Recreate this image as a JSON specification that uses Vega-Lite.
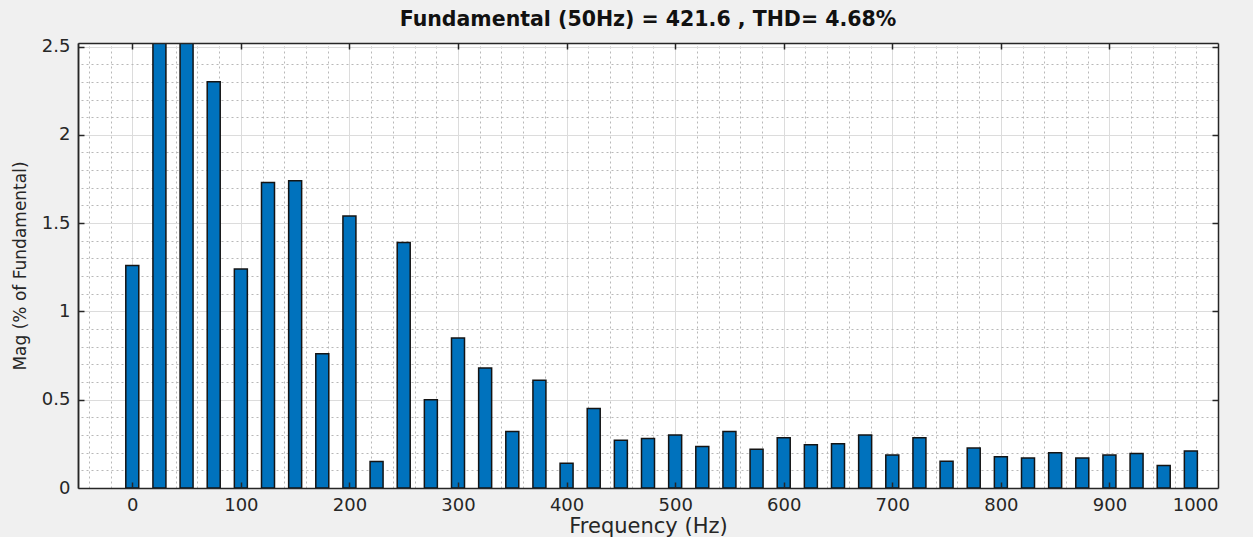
{
  "$schema": "https://vega.github.io/schema/vega-lite/v6.json",
  "width": 1140,
  "height": 445,
  "autosize": "none",
  "padding": {"left": 78, "top": 43, "right": 35, "bottom": 49},
  "background": "#F0F0F0",
  "title": {
    "text": "Fundamental (50Hz) = 421.6 , THD= 4.68%",
    "font": "DejaVu Sans",
    "fontSize": 20.5,
    "fontWeight": "bold",
    "color": "#111111",
    "anchor": "middle",
    "offset": 7
  },
  "config": {
    "view": {"fill": "white", "stroke": null},
    "axis": {
      "labelFont": "DejaVu Sans",
      "labelFontSize": 18,
      "labelColor": "#262626",
      "titleFont": "DejaVu Sans",
      "titleFontWeight": "normal",
      "titleColor": "#262626",
      "domainColor": "#262626",
      "tickColor": "#262626"
    }
  },
  "data": {
    "values": [
      {"freq": 0, "mag": 1.26},
      {"freq": 25, "mag": 3.0},
      {"freq": 50, "mag": 100},
      {"freq": 75, "mag": 2.3},
      {"freq": 100, "mag": 1.24},
      {"freq": 125, "mag": 1.73},
      {"freq": 150, "mag": 1.74},
      {"freq": 175, "mag": 0.76},
      {"freq": 200, "mag": 1.54},
      {"freq": 225, "mag": 0.15},
      {"freq": 250, "mag": 1.39},
      {"freq": 275, "mag": 0.5},
      {"freq": 300, "mag": 0.85},
      {"freq": 325, "mag": 0.68},
      {"freq": 350, "mag": 0.32},
      {"freq": 375, "mag": 0.61},
      {"freq": 400, "mag": 0.14},
      {"freq": 425, "mag": 0.45},
      {"freq": 450, "mag": 0.27},
      {"freq": 475, "mag": 0.28},
      {"freq": 500, "mag": 0.3},
      {"freq": 525, "mag": 0.235},
      {"freq": 550, "mag": 0.32},
      {"freq": 575, "mag": 0.22},
      {"freq": 600, "mag": 0.285},
      {"freq": 625, "mag": 0.245},
      {"freq": 650, "mag": 0.25},
      {"freq": 675, "mag": 0.3},
      {"freq": 700, "mag": 0.187},
      {"freq": 725, "mag": 0.285},
      {"freq": 750, "mag": 0.152},
      {"freq": 775, "mag": 0.226},
      {"freq": 800, "mag": 0.177},
      {"freq": 825, "mag": 0.17},
      {"freq": 850, "mag": 0.2},
      {"freq": 875, "mag": 0.17},
      {"freq": 900, "mag": 0.187},
      {"freq": 925, "mag": 0.195},
      {"freq": 950, "mag": 0.127},
      {"freq": 975, "mag": 0.21}
    ]
  },
  "layer": [
    {
      "mark": {"type": "point", "opacity": 0, "clip": true},
      "encoding": {
        "x": {
          "field": "freq", "type": "quantitative",
          "scale": {"domain": [-50, 1000], "nice": false, "zero": false, "padding": 0},
          "axis": {
            "orient": "top", "title": null, "labels": false, "ticks": false, "domain": false,
            "grid": true, "gridColor": "#b8b8b8", "gridDash": [2, 3], "gridWidth": 1,
            "values": [-40, -20, 0, 20, 40, 60, 80, 120, 140, 160, 180, 220, 240, 260, 280, 320, 340, 360, 380, 420, 440, 460, 480, 520, 540, 560, 580, 620, 640, 660, 680, 720, 740, 760, 780, 820, 840, 860, 880, 920, 940, 960, 980]
          }
        },
        "y": {
          "field": "mag", "type": "quantitative",
          "scale": {"domain": [0, 2.52], "nice": false, "padding": 0},
          "axis": {
            "orient": "right", "title": null, "labels": false, "ticks": false, "domain": false,
            "grid": true, "gridColor": "#b8b8b8", "gridDash": [2, 3], "gridWidth": 1,
            "values": [0.1, 0.2, 0.3, 0.4, 0.6, 0.7, 0.8, 0.9, 1.1, 1.2, 1.3, 1.4, 1.6, 1.7, 1.8, 1.9, 2.1, 2.2, 2.3, 2.4]
          }
        }
      }
    },
    {
      "mark": {"type": "bar", "fill": "#0072BD", "stroke": "#141414", "strokeWidth": 1.5, "width": 13, "clip": true},
      "encoding": {
        "x": {
          "field": "freq", "type": "quantitative",
          "scale": {"domain": [-50, 1000], "nice": false, "zero": false, "padding": 0},
          "axis": {
            "orient": "bottom", "title": "Frequency (Hz)", "titleFontSize": 21, "titlePadding": 1,
            "labelPadding": 8, "ticks": false, "domain": true, "domainWidth": 1.5,
            "grid": true, "gridColor": "#dcdcdc", "gridWidth": 1,
            "labelExpr": "'' + datum.value",
            "values": [0, 100, 200, 300, 400, 500, 600, 700, 800, 900, 1000]
          }
        },
        "y": {
          "field": "mag", "type": "quantitative",
          "scale": {"domain": [0, 2.52], "nice": false, "padding": 0},
          "axis": {
            "orient": "left", "title": "Mag (% of Fundamental)", "titleFontSize": 17, "titlePadding": 12,
            "labelPadding": 8, "ticks": false, "domain": true, "domainWidth": 1.5,
            "grid": true, "gridColor": "#dcdcdc", "gridWidth": 1,
            "labelExpr": "'' + datum.value",
            "values": [0, 0.5, 1, 1.5, 2, 2.5]
          }
        }
      }
    },
    {
      "mark": {"type": "point", "opacity": 0, "clip": true},
      "encoding": {
        "x": {
          "field": "freq", "type": "quantitative",
          "scale": {"domain": [-50, 1000], "nice": false, "zero": false, "padding": 0},
          "axis": {
            "orient": "bottom", "title": null, "labels": false, "ticks": true, "tickSize": -6, "tickWidth": 1.5,
            "domain": false, "grid": false, "zindex": 1,
            "values": [0, 100, 200, 300, 400, 500, 600, 700, 800, 900]
          }
        },
        "y": {
          "field": "mag", "type": "quantitative",
          "scale": {"domain": [0, 2.52], "nice": false, "padding": 0},
          "axis": {
            "orient": "left", "title": null, "labels": false, "ticks": true, "tickSize": -6, "tickWidth": 1.5,
            "domain": true, "domainWidth": 1.5, "grid": false, "zindex": 1,
            "values": [0.5, 1, 1.5, 2, 2.5]
          }
        }
      }
    },
    {
      "mark": {"type": "point", "opacity": 0, "clip": true},
      "encoding": {
        "x": {
          "field": "freq", "type": "quantitative",
          "scale": {"domain": [-50, 1000], "nice": false, "zero": false, "padding": 0},
          "axis": {
            "orient": "top", "title": null, "labels": false, "ticks": true, "tickSize": -6, "tickWidth": 1.5,
            "domain": true, "domainWidth": 1.5, "grid": false, "zindex": 1,
            "values": [0, 100, 200, 300, 400, 500, 600, 700, 800, 900]
          }
        },
        "y": {
          "field": "mag", "type": "quantitative",
          "scale": {"domain": [0, 2.52], "nice": false, "padding": 0},
          "axis": {
            "orient": "right", "title": null, "labels": false, "ticks": true, "tickSize": -6, "tickWidth": 1.5,
            "domain": true, "domainWidth": 1.5, "grid": false, "zindex": 1,
            "values": [0.5, 1, 1.5, 2, 2.5]
          }
        }
      }
    }
  ],
  "resolve": {"axis": {"x": "independent", "y": "independent"}}
}
